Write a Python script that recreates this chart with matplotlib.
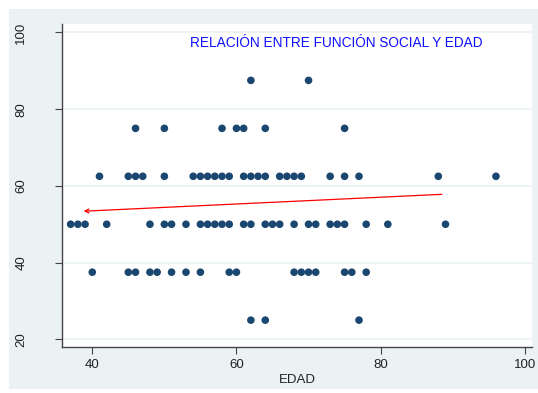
import matplotlib
matplotlib.use("Agg")
import matplotlib.pyplot as plt
from matplotlib.patches import Rectangle

plt.rcParams['font.family'] = ['Liberation Sans', 'DejaVu Sans']

# ages grouped by social-function score
edad_25 = [62, 64, 77]
edad_375 = [40, 45, 46, 48, 49, 51, 53, 55, 59, 60, 68, 69, 70, 71, 75, 76, 78]
edad_50 = [37, 38, 39, 42, 48, 50, 51, 53, 55, 56, 57, 58, 59, 61, 62, 64, 65,
           66, 68, 70, 71, 73, 74, 75, 78, 81, 89]
edad_625 = [41, 45, 46, 47, 50, 54, 55, 56, 57, 58, 59, 61, 62, 63, 64, 66, 67,
            68, 69, 73, 75, 77, 88, 96]
edad_75 = [46, 50, 58, 60, 61, 64, 75]
edad_875 = [62, 70]
niveles = [25, 37.5, 50, 62.5, 75, 87.5]

# fitted trend drawn as an arrow (start -> end)
fit_x = [88.5, 38.8]
fit_y = [57.8, 53.4]

x_ticks = [40, 60, 80, 100]
y_ticks = [20, 40, 60, 80, 100]

edad = []
funcion = []
for nivel, grupo in zip(niveles, [edad_25, edad_375, edad_50, edad_625, edad_75, edad_875]):
    edad += grupo
    funcion += [nivel] * len(grupo)

W, H = 538, 393
fig = plt.figure(figsize=(W / 100, H / 100), dpi=100, facecolor='white')
fig.patches.append(Rectangle((9 / W, 4 / H), 1 - 9 / W, 1 - 13 / H,
                             transform=fig.transFigure, facecolor='#eaf2f3',
                             edgecolor='none', zorder=-10))

ax = fig.add_axes([62 / W, 1 - 347 / H, 470 / W, 323 / H])
ax.set_facecolor('white')

ax.set_xlim(35.8, 101.0)
ax.set_ylim(18.0, 102.2)
ax.set_xticks(x_ticks)
ax.set_yticks(y_ticks)

for y in y_ticks:
    ax.axhline(y, color='#eaf2f3', lw=1.2, zorder=1)

ax.scatter(edad, funcion, s=30, color='#1a476f', edgecolors='none', zorder=3)

ax.annotate('', xy=(fit_x[1], fit_y[1]), xytext=(fit_x[0], fit_y[0]),
            arrowprops=dict(arrowstyle='->', color='red', lw=0.9,
                            mutation_scale=7, shrinkA=0, shrinkB=0),
            zorder=4)

ax.text(0.583, 0.94, 'RELACIÓN ENTRE FUNCIÓN SOCIAL Y EDAD', transform=ax.transAxes,
        color='#1010ff', fontsize=9.8, ha='center', va='center')

for side in ['top', 'right']:
    ax.spines[side].set_visible(False)
for side in ['left', 'bottom']:
    ax.spines[side].set_color('#444444')
    ax.spines[side].set_linewidth(1.0)

ax.tick_params(axis='x', length=5, width=0.8, color='#444444', pad=4,
               labelsize=9.5, labelcolor='#222222')
ax.tick_params(axis='y', length=5, width=0.8, color='#444444', pad=20,
               labelsize=9.5, labelcolor='#222222')
for lab in ax.get_yticklabels():
    lab.set_rotation(90)
    lab.set_va('center')

ax.set_xlabel('EDAD', fontsize=9.5, color='#222222', labelpad=2)

fig.savefig('out.png', dpi=100, facecolor='white')
